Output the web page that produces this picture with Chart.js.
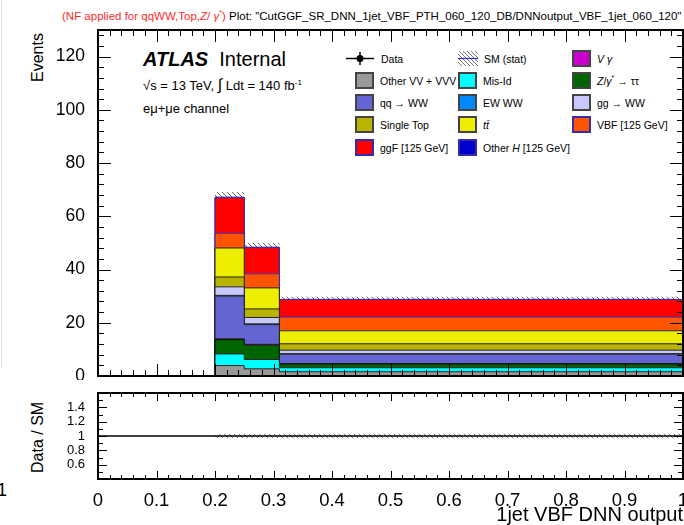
<!DOCTYPE html>
<html>
<head>
<meta charset="utf-8">
<script src="https://cdn.jsdelivr.net/npm/chart.js@4.4.0/dist/chart.umd.min.js"></script>
<style>
  body { margin: 0; width: 684px; height: 525px; overflow: hidden; background: #fff; position: relative;
         font-family: "Liberation Sans", Arial, sans-serif; color: #000; }
  canvas { position: absolute; left: 0; }
  #main { top: 0; }
  #ratio { top: 380px; }
  .txt { position: absolute; white-space: nowrap; }
  .ytitle { position: absolute; transform-origin: left top; transform: rotate(-90deg); font-size: 16px; white-space: nowrap; }
  .leg { position: absolute; font-size: 10.5px; white-space: nowrap; display: flex; align-items: center; }
  .leg .box { width: 19px; height: 17px; border: 2px solid #444; box-sizing: border-box; margin-right: 6px; }
</style>
</head>
<body>
<div class="txt" style="left:1px;top:0;width:1px;height:368px;background:#ddd"></div>
<div class="txt" style="left:-3px;top:480px;font-size:18px">1</div>
<div class="txt" style="left:62px;top:9px;font-size:11.5px;width:640px;overflow:hidden">
  <span style="color:#ff2a2a">(NF applied for qqWW,Top,<i>Z</i>/ <i>γ</i><sup style="font-size:7px">*</sup>)</span> Plot: "CutGGF_SR_DNN_1jet_VBF_PTH_060_120_DB/DNNoutput_VBF_1jet_060_120"</div>
<div class="ytitle" style="left:29px;top:82px">Events</div>
<div class="ytitle" style="left:29px;top:473px">Data / SM</div>
<div class="txt" style="left:143px;top:48px;font-size:20px"><b><i>ATLAS</i></b>&nbsp; Internal</div>
<div class="txt" style="left:143px;top:76px;font-size:13px">√s = 13 TeV, <span style="font-size:16px">∫</span> Ldt = 140 fb<sup style="font-size:8px">-1</sup></div>
<div class="txt" style="left:143px;top:101px;font-size:13px">eμ+μe channel</div>
<div id="legend"></div>
<canvas id="main" width="684" height="380"></canvas>
<canvas id="ratio" width="684" height="145"></canvas>
<script>
// bin edges of the DNN output histogram (only the last three bins are filled)
const binEdges = [0, 0.2, 0.25, 0.31, 1.0];

// yields per filled bin: [0.2-0.25, 0.25-0.31, 0.31-1.0]
const otherVV   = [3.9, 2.7, 1.6];
const misId     = [4.4, 3.5, 1.5];
const zTauTau   = [5.4, 5.4, 1.4];
const vGamma    = [0.3, 0.3, 0.2];
const qqWW      = [16.0, 7.4, 3.5];
const ewWW      = [0.3, 0.3, 0.2];
const ggWW      = [3.2, 2.4, 1.3];
const singleTop = [3.7, 3.2, 2.4];
const ttbar     = [10.9, 7.9, 4.9];
const vbf       = [5.5, 5.3, 5.1];
const ggF       = [13.4, 9.8, 6.6];
const otherH    = [0.2, 0.2, 0.1];
const statErr   = [1.9, 1.6, 1.0];

const xTicks = [0, 0.1, 0.2, 0.3, 0.4, 0.5, 0.6, 0.7, 0.8, 0.9, 1];
const xTickLabels = ['0', '0.1', '0.2', '0.3', '0.4', '0.5', '0.6', '0.7', '0.8', '0.9', '1'];
const yTicks = [0, 20, 40, 60, 80, 100, 120];
const ratioTicks = [0.6, 0.8, 1, 1.2, 1.4];
const ratioTickLabels = ['0.6', '0.8', '1', '1.2', '1.4'];

const FONT = '"Liberation Sans", Arial, sans-serif';
Chart.defaults.font.family = FONT;
Chart.defaults.color = '#000';

// per-bin values -> step points on the bin edges (value holds until the next edge)
function toSteps(vals) {
    const pts = [{ x: binEdges[0], y: 0 }];
    vals.forEach((v, i) => pts.push({ x: binEdges[i + 1], y: v }));
    pts.push({ x: binEdges[binEdges.length - 1], y: vals[vals.length - 1] });
    return pts;
}

function hatch(ctx, color) {
    const c = document.createElement('canvas');
    c.width = 5; c.height = 5;
    const g = c.getContext('2d');
    g.strokeStyle = color; g.lineWidth = 1;
    g.beginPath();
    g.moveTo(0, 0); g.lineTo(5, 5);
    g.moveTo(-1, 4); g.lineTo(1, 6);
    g.moveTo(4, -1); g.lineTo(6, 1);
    g.stroke();
    return ctx.createPattern(c, 'repeat');
}

// stack, bottom first
const components = [
    { label: 'Other VV + VVV', data: otherVV, color: '#999999', border: '#222' },
    { label: 'Mis-Id', data: misId, color: '#00ffff', border: '#222' },
    { label: 'Z/γ* → ττ', data: zTauTau, color: '#006400', border: '#111' },
    { label: 'Vγ', data: vGamma, color: '#cc00cc', border: '#222' },
    { label: 'qq → WW', data: qqWW, color: '#6464d2', border: '#222' },
    { label: 'EW WW', data: ewWW, color: '#0088ff', border: '#222' },
    { label: 'gg → WW', data: ggWW, color: '#c8c8ff', border: '#222' },
    { label: 'Single Top', data: singleTop, color: '#b8b400', border: '#222' },
    { label: 'tt̄', data: ttbar, color: '#eeee00', border: '#222' },
    { label: 'VBF [125 GeV]', data: vbf, color: '#ff5500', border: '#3a2aa8' },
    { label: 'ggF [125 GeV]', data: ggF, color: '#ff0000', border: '#3a2aa8' },
    { label: 'Other H [125 GeV]', data: otherH, color: '#0000cc', border: '#3a2aa8' }
];

const total = ggF.map((_, i) => components.reduce((s, c) => s + c.data[i], 0));

// frame with inward ticks on all four sides
const framePlugin = {
    id: 'frame',
    afterDraw(chart, args, o) {
        const { ctx, chartArea: a, scales } = chart;
        const xs = scales.x, ys = scales.y;
        ctx.save();
        ctx.strokeStyle = '#000';
        ctx.lineWidth = 1;
        ctx.beginPath();
        const nx = Math.round((xs.max - xs.min) / o.xStep);
        for (let i = 0; i <= nx; i++) {
            const px = Math.round(xs.getPixelForValue(xs.min + i * o.xStep)) + 0.5;
            const len = i % o.xEvery === 0 ? o.xLen[0] : o.xLen[1];
            ctx.moveTo(px, a.bottom); ctx.lineTo(px, a.bottom - len);
            ctx.moveTo(px, a.top); ctx.lineTo(px, a.top + len);
        }
        const ny = Math.floor((ys.max - ys.min) / o.yStep + 1e-6);
        for (let i = 0; i <= ny; i++) {
            const py = Math.round(ys.getPixelForValue(ys.min + i * o.yStep)) + 0.5;
            const len = i % o.yEvery === 0 ? o.yLen[0] : o.yLen[1];
            ctx.moveTo(a.left, py); ctx.lineTo(a.left + len, py);
            ctx.moveTo(a.right, py); ctx.lineTo(a.right - len, py);
        }
        ctx.stroke();
        ctx.lineWidth = 2;
        ctx.strokeRect(a.left, a.top, a.right - a.left, a.bottom - a.top);
        ctx.restore();
    }
};

const mainCtx = document.getElementById('main').getContext('2d');
const mainSets = components.map((c, i) => ({
    label: c.label,
    data: toSteps(c.data),
    backgroundColor: c.color,
    borderColor: c.border,
    borderWidth: 1,
    fill: i === 0 ? 'origin' : '-1',
    stepped: 'before',
    pointRadius: 0,
    yAxisID: 'y'
}));
const nComp = mainSets.length;
mainSets.push({
    label: 'SM up',
    data: toSteps(total.map((t, i) => t + statErr[i])),
    borderWidth: 0, pointRadius: 0, stepped: 'before', fill: false,
    yAxisID: 'yh', order: 1
});
mainSets.push({
    label: 'SM down',
    data: toSteps(total.map((t, i) => t - statErr[i])),
    borderWidth: 0, pointRadius: 0, stepped: 'before',
    fill: { target: nComp },
    backgroundColor: hatch(mainCtx, '#666'),
    yAxisID: 'yh', order: 1
});

new Chart(mainCtx, {
    type: 'line',
    data: { datasets: mainSets },
    options: {
        responsive: false,
        animation: false,
        events: [],
        layout: { padding: { top: 30, right: 1, bottom: 4, left: 0 } },
        plugins: {
            legend: { display: false },
            tooltip: { enabled: false },
            frame: { xStep: 0.02, xEvery: 5, xLen: [12, 6], yStep: 4, yEvery: 5, yLen: [13, 6] }
        },
        scales: {
            x: { type: 'linear', min: 0, max: 1, display: false },
            y: {
                stacked: true, min: 0, max: 130,
                grid: { display: false }, border: { display: false },
                ticks: { padding: 5, font: { size: 17.5 } },
                afterBuildTicks: s => { s.ticks = yTicks.map(v => ({ value: v })); },
                afterFit: s => { s.width = 98; s.paddingTop = 0; s.paddingBottom = 0; }
            },
            yh: { display: false, min: 0, max: 130 }
        }
    },
    plugins: [framePlugin]
});

const ratioCtx = document.getElementById('ratio').getContext('2d');
const ratioErr = statErr.map((e, i) => e / total[i]);
const bandEdges = binEdges.slice(1);
// band starts at the first filled bin edge
const ratioUp = [{ x: bandEdges[0], y: 1 + ratioErr[0] }];
const ratioDown = [{ x: bandEdges[0], y: 1 - ratioErr[0] }];
ratioErr.forEach((r, i) => {
    ratioUp.push({ x: bandEdges[i + 1], y: 1 + r });
    ratioDown.push({ x: bandEdges[i + 1], y: 1 - r });
});
new Chart(ratioCtx, {
    type: 'line',
    data: {
        datasets: [
            {
                label: 'unity',
                data: [{ x: 0, y: 1 }, { x: 1, y: 1 }],
                borderColor: '#000', borderWidth: 1.5, pointRadius: 0, fill: false
            },
            {
                label: 'band up',
                data: ratioUp,
                borderWidth: 0, pointRadius: 0, stepped: 'before', fill: false, order: 1
            },
            {
                label: 'band down',
                data: ratioDown,
                borderWidth: 0, pointRadius: 0, stepped: 'before', fill: { target: 1 },
                backgroundColor: hatch(ratioCtx, '#777'), order: 1
            }
        ]
    },
    options: {
        responsive: false,
        animation: false,
        events: [],
        layout: { padding: { top: 13, right: 1, bottom: 0, left: 0 } },
        plugins: {
            legend: { display: false },
            tooltip: { enabled: false },
            frame: { xStep: 0.02, xEvery: 5, xLen: [8, 4], yStep: 0.1, yEvery: 2, yLen: [9, 5] }
        },
        scales: {
            x: {
                type: 'linear', min: 0, max: 1,
                grid: { display: false }, border: { display: false },
                ticks: { padding: 3, font: { size: 18.5 }, maxRotation: 0, autoSkip: false,
                         callback: (v, i) => xTickLabels[i] },
                afterBuildTicks: s => { s.ticks = xTicks.map(v => ({ value: v })); },
                title: { display: true, text: '1jet VBF DNN output', align: 'end', font: { size: 20 },
                         padding: { top: 0, bottom: -2 } },
                afterFit: s => { s.height = 46; s.paddingLeft = 0; s.paddingRight = 0; }
            },
            y: {
                min: 0.4, max: 1.6,
                grid: { display: false }, border: { display: false },
                ticks: { padding: 5, font: { size: 13 }, callback: (v, i) => ratioTickLabels[i] },
                afterBuildTicks: s => { s.ticks = ratioTicks.map(v => ({ value: v })); },
                afterFit: s => { s.width = 98; s.paddingTop = 0; s.paddingBottom = 0; }
            }
        }
    },
    plugins: [framePlugin]
});

// legend, three columns
const legendCols = [355, 458, 572];
const legendRows = [50, 72, 94, 116, 139];
const legendItems = [
    { html: 'Data', kind: 'data' },
    { html: 'SM (stat)', kind: 'stat' },
    { html: '<i>V γ</i>', color: '#cc00cc' },
    { html: 'Other VV + VVV', color: '#999999' },
    { html: 'Mis-Id', color: '#00ffff' },
    { html: '<i>Z</i>/<i>γ</i><sup style="font-size:7px">*</sup> → ττ', color: '#006400' },
    { html: 'qq → WW', color: '#6464d2' },
    { html: 'EW WW', color: '#0088ff' },
    { html: 'gg → WW', color: '#c8c8ff' },
    { html: 'Single Top', color: '#b8b400' },
    { html: '<i>tt̄</i>', color: '#eeee00' },
    { html: 'VBF [125 GeV]', color: '#ff5500', edge: '#3a2aa8' },
    { html: 'ggF [125 GeV]', color: '#ff0000', edge: '#3a2aa8' },
    { html: 'Other <i>H</i> [125 GeV]', color: '#0000cc', edge: '#3a2aa8' }
];
const legend = document.getElementById('legend');
legend.innerHTML = legendItems.map((it, i) => {
    const left = legendCols[i % 3], top = legendRows[Math.floor(i / 3)];
    let mark;
    if (it.kind === 'data') {
        mark = '<svg width="30" height="17" style="margin-left:-10px;margin-right:6px"><line x1="1" y1="8.5" x2="29" y2="8.5" stroke="#000" stroke-width="1.5"/>' +
               '<line x1="15" y1="2" x2="15" y2="15" stroke="#000" stroke-width="1.5"/><circle cx="15" cy="8.5" r="3.5" fill="#000"/></svg>';
    } else if (it.kind === 'stat') {
        mark = '<svg width="21" height="17" style="margin-right:5px"><defs><pattern id="hp" width="4" height="4" patternUnits="userSpaceOnUse">' +
               '<path d="M0,0 L4,4 M-1,3 L1,5 M3,-1 L5,1" stroke="#777" stroke-width="1"/></pattern></defs>' +
               '<rect x="0" y="1" width="20" height="15" fill="url(#hp)"/><line x1="0" y1="8.5" x2="20" y2="8.5" stroke="#3030e0" stroke-width="1.2"/></svg>';
    } else {
        mark = '<div class="box" style="background:' + it.color + ';border-color:' + (it.edge || '#444') + '"></div>';
    }
    return '<div class="leg" style="left:' + left + 'px;top:' + top + 'px;height:17px">' + mark + '<span>' + it.html + '</span></div>';
}).join('');
</script>
</body>
</html>
